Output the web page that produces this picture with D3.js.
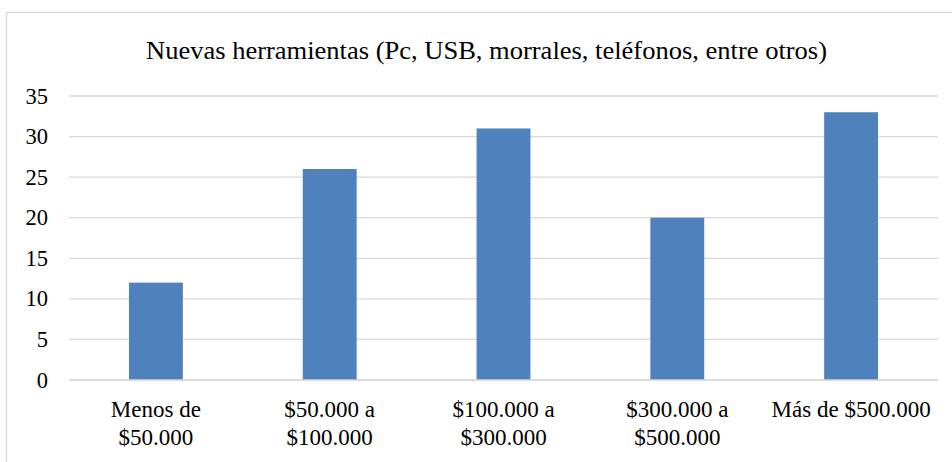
<!DOCTYPE html>
<html>
<head>
<meta charset="utf-8">
<script src="https://cdn.jsdelivr.net/npm/d3@7"></script>
<style>
  body { margin: 0; background: #fff; }
  svg { display: block; }
</style>
</head>
<body>
<svg width="952" height="462"></svg>
<script>
// data
const title = 'Nuevas herramientas (Pc, USB, morrales, teléfonos, entre otros)'
const categories = ['Menos de $50.000', '$50.000 a $100.000', '$100.000 a $300.000', '$300.000 a $500.000', 'Más de $500.000']
const categoryLines = [
  ['Menos de', '$50.000'],
  ['$50.000 a', '$100.000'],
  ['$100.000 a', '$300.000'],
  ['$300.000 a', '$500.000'],
  ['Más de $500.000']
]
const values = [12, 26, 31, 20, 33]
const yTicks = [0, 5, 10, 15, 20, 25, 30, 35]

const font = "'Liberation Serif', 'Times New Roman', Tinos, 'DejaVu Serif', serif"
const svg = d3.select('svg')
    .attr('font-family', font)
    .style('font-family', font)
const plotLeft = 69, plotRight = 938, plotTop = 96, plotBottom = 380

// chart border
svg.append('rect')
    .attr('x', 6.5).attr('y', 12.5)
    .attr('width', 960).attr('height', 470)
    .attr('fill', 'none')
    .attr('stroke', '#d9d9d9')
    .attr('stroke-width', 1.3)

svg.append('text')
    .attr('x', 486.5).attr('y', 58.5)
    .attr('text-anchor', 'middle')
    .attr('textLength', 681)
    .attr('lengthAdjust', 'spacingAndGlyphs')
    .style('font-size', '25px')
    .text(title)

const x = d3.scaleBand()
    .domain(categories)
    .range([plotLeft, plotRight])
    .paddingInner(0.69)
    .paddingOuter(0.345)

const y = d3.scaleLinear()
    .domain([0, 35])
    .range([plotBottom, plotTop])

// gridlines
svg.append('g')
  .selectAll('line')
  .data(yTicks)
  .enter().append('line')
    .attr('x1', plotLeft).attr('x2', plotRight)
    .attr('y1', d => y(d)).attr('y2', d => y(d))
    .attr('stroke', '#d9d9d9')
    .attr('stroke-width', 1.3)

// y labels
svg.append('g')
  .selectAll('text')
  .data(yTicks)
  .enter().append('text')
    .attr('x', 48)
    .attr('y', d => y(d) + 7.5)
    .attr('text-anchor', 'end')
    .style('font-size', '22.5px')
    .text(d => d)

// bars
svg.append('g')
  .selectAll('rect')
  .data(values)
  .enter().append('rect')
    .attr('x', (d, i) => x(categories[i]))
    .attr('width', x.bandwidth())
    .attr('y', d => y(d))
    .attr('height', d => y(0) - y(d))
    .attr('fill', '#4f81bd')

// baseline
svg.append('line')
    .attr('x1', plotLeft).attr('x2', plotRight)
    .attr('y1', y(0)).attr('y2', y(0))
    .attr('stroke', '#d9d9d9')
    .attr('stroke-width', 1.3)

// category labels
const labels = svg.append('g')
  .selectAll('text')
  .data(categoryLines)
  .enter().append('text')
    .attr('text-anchor', 'middle')
    .style('font-size', '23px')
    .attr('transform', (d, i) => `translate(${x(categories[i]) + x.bandwidth() / 2}, 416.5)`)

labels.selectAll('tspan')
  .data(d => d)
  .enter().append('tspan')
    .attr('x', 0)
    .attr('y', (d, i) => i * 28)
    .text(d => d)
</script>
</body>
</html>
